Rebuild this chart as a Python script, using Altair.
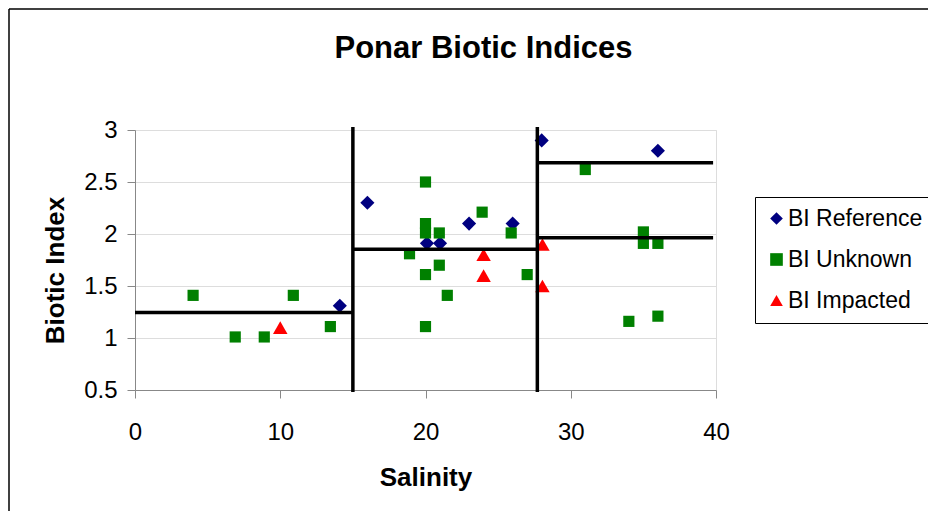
import altair as alt
import pandas as pd

# ---- data ----
ref_x = [14.1, 16.0, 20.1, 21.0, 23.0, 26.0, 28.0, 36.0]
ref_y = [1.31, 2.30, 1.91, 1.91, 2.10, 2.10, 2.90, 2.80]

unk_x = [4.0, 6.9, 8.9, 10.9, 13.45, 18.9, 20.0, 20.0, 20.0, 20.95, 20.95, 20.0, 21.5,
         20.0, 23.9, 25.9, 27.0, 31.0, 35.0, 35.0, 36.0, 34.0, 36.0]
unk_y = [1.41, 1.01, 1.01, 1.41, 1.11, 1.81, 2.50, 2.10, 2.01, 2.01, 1.70, 1.61, 1.41,
         1.11, 2.21, 2.01, 1.61, 2.62, 2.02, 1.91, 1.91, 1.16, 1.21]

imp_x = [10.0, 24.0, 24.0, 28.05, 28.05]
imp_y = [1.10, 1.80, 1.60, 1.90, 1.50]

series_names = ["BI Reference", "BI Unknown", "BI Impacted"]
series_colors = ["#000080", "#008000", "#FF0000"]
series_shapes = ["diamond", "square", "triangle-up"]
series_sizes = [200, 125, 210]

# threshold segments (x, x2, y, y2)
seg_x = [0.0, 15.0, 15.0, 27.7, 27.7, 27.7]
seg_x2 = [15.0, 15.0, 27.7, 27.7, 39.8, 39.8]
seg_y = [1.245, 0.48, 1.853, 0.48, 2.686, 1.964]
seg_y2 = [1.245, 3.03, 1.853, 3.03, 2.686, 1.964]

x_ticks = [0, 10, 20, 30, 40]
y_ticks = [0.5, 1.0, 1.5, 2.0, 2.5, 3.0]

chart_title = "Ponar Biotic Indices"

# ---- tables ----
rows = []
for name, xs, ys in zip(series_names, [ref_x, unk_x, imp_x], [ref_y, unk_y, imp_y]):
    for a, b in zip(xs, ys):
        rows.append({"Salinity": a, "BI": b, "Series": name})
pts = pd.DataFrame(rows)
segs = pd.DataFrame({"x": seg_x, "x2": seg_x2, "y": seg_y, "y2": seg_y2})

FONT = "Liberation Sans"
PW, PH = 581, 260

xscale = alt.Scale(domain=[0, 40], nice=False, zero=False)
yscale = alt.Scale(domain=[0.5, 3.0], nice=False, zero=False)

size_expr = " : ".join(
    f"datum.Series === '{n}' ? {s}" for n, s in zip(series_names, series_sizes)
) + " : 100"

points = alt.Chart(pts).transform_calculate(sz=size_expr).mark_point(
    filled=True, opacity=1, strokeWidth=0
).encode(
    x=alt.X("Salinity:Q", scale=xscale,
            axis=alt.Axis(values=x_ticks, title="Salinity", grid=False, labelFlush=False,
                          tickSize=8, labelPadding=22, labelFontSize=24,
                          titleFontSize=26, titleFontWeight="bold",
                          titleBaseline="alphabetic", titleY=95, titleX=PW / 2)),
    y=alt.Y("BI:Q", scale=yscale,
            axis=alt.Axis(values=y_ticks, format="~g", title="Biotic Index", grid=True,
                          labelFlush=False,
                          tickSize=8, labelPadding=10, labelFontSize=24,
                          titleFontSize=26, titleFontWeight="bold",
                          titleBaseline="alphabetic", titleX=-72, titleY=140,
                          titleAngle=-90)),
    color=alt.Color("Series:N",
                    scale=alt.Scale(domain=series_names, range=series_colors),
                    legend=alt.Legend(title=None, orient="none", legendX=620, legendY=67,
                                      labelFontSize=23, labelFont=FONT, symbolSize=160,
                                      padding=10, rowPadding=17, labelOffset=0,
                                      strokeColor="black", fillColor="white",
                                      symbolStrokeWidth=0, labelLimit=400)),
    shape=alt.Shape("Series:N",
                    scale=alt.Scale(domain=series_names, range=series_shapes)),
    size=alt.Size("sz:Q", scale=None),
)

lines = alt.Chart(segs).mark_rule(color="black", strokeWidth=3.5).encode(
    x=alt.X("x:Q", scale=xscale), x2="x2:Q",
    y=alt.Y("y:Q", scale=yscale), y2="y2:Q",
)

one = pd.DataFrame({"t": [chart_title]})
title_mark = alt.Chart(one).mark_text(
    font=FONT, fontSize=31, fontWeight="bold", align="center", baseline="alphabetic",
    color="black",
).encode(text="t:N", x=alt.value(348.5), y=alt.value(-72))

border = alt.Chart(one).mark_rule(color="black", strokeWidth=1.5)
border_left = border.encode(x=alt.value(-126), y=alt.value(-121), y2=alt.value(400))
border_top = border.encode(x=alt.value(-126), x2=alt.value(800), y=alt.value(-121))

chart = alt.layer(points, lines, title_mark, border_left, border_top).properties(
    width=PW, height=PH,
    autosize=alt.AutoSizeParams(type="none"),
    padding={"left": 127, "top": 122, "right": 212, "bottom": 121},
).configure_view(stroke=None).configure_axis(
    domainColor="#404040", tickColor="#404040", gridColor="#707070", gridWidth=1,
    labelFont=FONT, titleFont=FONT, labelColor="black", titleColor="black",
).configure(background="white")

chart.save("out.html", embed_options={"renderer": "svg", "actions": False})
